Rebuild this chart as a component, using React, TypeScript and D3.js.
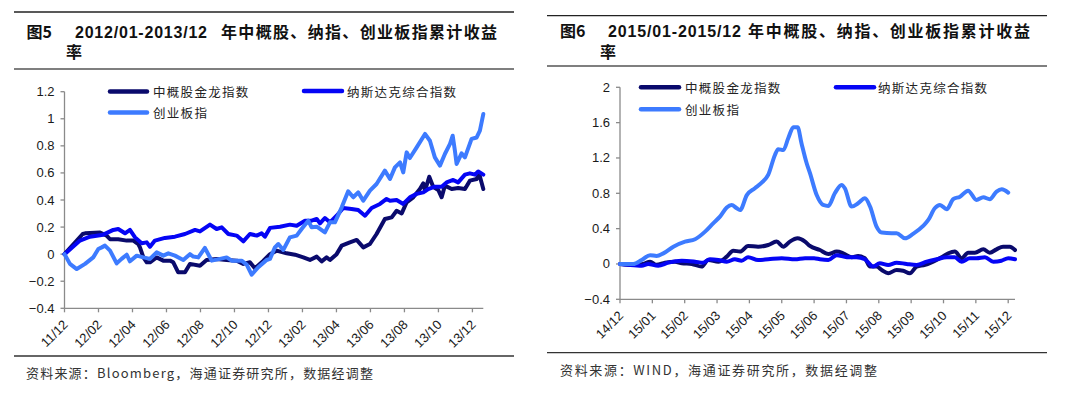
import React from "react";
import * as d3 from "d3";

// ---------- DATA ----------
const seriesNames = ["中概股金龙指数", "纳斯达克综合指数", "创业板指"];

// Chart 5: 2012/01-2013/12 (x = months since 2011/12)
const leftTickLabels = ["11/12", "12/02", "12/04", "12/06", "12/08", "12/10", "12/12", "13/02", "13/04", "13/06", "13/08", "13/10", "13/12"];
const leftTickMonths = [0, 2, 4, 6, 8, 10, 12, 14, 16, 18, 20, 22, 24];
const leftYTicks = [-0.4, -0.2, 0, 0.2, 0.4, 0.6, 0.8, 1, 1.2];

const leftZhonggai: [number, number][] = [
  [0, 0], [1.07, 0.149], [1.21, 0.154], [2.09, 0.16], [2.48, 0.137], [2.68, 0.11], [3.16, 0.11], [3.66, 0.1], [4.05, 0.1],
  [4.34, 0.075], [4.44, 0.05], [4.64, -0.024], [4.84, -0.06], [5.03, -0.06], [5.42, -0.024], [5.81, -0.048], [6.21, -0.048],
  [6.4, -0.06], [6.69, -0.134], [7.09, -0.134], [7.38, -0.072], [7.97, -0.085], [8.36, -0.043], [8.95, -0.035], [9.54, -0.043],
  [10.13, -0.048], [10.52, -0.072], [10.91, -0.06], [11.21, -0.105], [11.69, -0.05], [12.09, 0], [12.48, 0.026], [13.07, 0.006],
  [13.56, -0.004], [14.05, -0.024], [14.44, -0.043], [14.84, -0.018], [15.13, -0.053], [15.42, -0.024], [15.62, -0.043],
  [16.01, 0], [16.31, 0.063], [16.79, 0.087], [17.19, 0.105], [17.58, 0.05], [17.97, 0.075], [18.36, 0.149], [18.85, 0.26],
  [19.25, 0.272], [19.54, 0.321], [19.84, 0.301], [20.13, 0.383], [20.52, 0.42], [20.91, 0.481], [21.11, 0.523], [21.21, 0.469],
  [21.46, 0.572], [21.69, 0.498], [21.99, 0.474], [22.19, 0.42], [22.38, 0.506], [22.78, 0.481], [23.16, 0.489], [23.56, 0.481],
  [23.85, 0.543], [24.25, 0.555], [24.4, 0.592], [24.64, 0.481],
];
const leftNasdaq: [number, number][] = [
  [0, 0], [0.91, 0.1], [1.5, 0.129], [2.28, 0.144], [2.87, 0.179], [3.16, 0.186], [3.56, 0.154], [3.85, 0.179], [4.15, 0.124],
  [4.54, 0.08], [4.84, 0.087], [5.03, 0.055], [5.32, 0.1], [5.91, 0.12], [6.5, 0.129], [7.09, 0.149], [7.68, 0.179], [7.97, 0.168],
  [8.56, 0.218], [8.95, 0.186], [9.25, 0.198], [9.64, 0.149], [10.13, 0.137], [10.52, 0.095], [10.91, 0.149], [11.31, 0.137],
  [11.6, 0.154], [11.79, 0.129], [12.09, 0.194], [12.68, 0.203], [13.26, 0.218], [13.66, 0.21], [14.15, 0.247], [14.54, 0.247],
  [14.84, 0.26], [15.03, 0.227], [15.32, 0.267], [15.62, 0.235], [16.01, 0.284], [16.4, 0.341], [16.89, 0.334], [17.28, 0.326],
  [17.68, 0.284], [18.07, 0.341], [18.56, 0.371], [18.95, 0.408], [19.15, 0.395], [19.54, 0.4], [19.93, 0.371], [20.32, 0.42],
  [20.72, 0.445], [21.11, 0.456], [21.4, 0.481], [21.79, 0.498], [22.19, 0.498], [22.48, 0.53], [22.87, 0.548], [23.16, 0.53],
  [23.56, 0.587], [23.85, 0.597], [24.15, 0.587], [24.34, 0.611], [24.64, 0.587],
];
const leftChinext: [number, number][] = [
  [0, 0], [0.32, -0.072], [0.72, -0.11], [1.21, -0.072], [1.69, -0.024], [1.99, 0.038], [2.19, 0.05], [2.38, 0.063], [2.68, 0.026],
  [3.07, -0.068], [3.36, -0.035], [3.66, -0.004], [3.85, -0.053], [4.25, -0.011], [4.64, -0.024], [5.03, -0.035], [5.42, 0.013],
  [5.81, -0.011], [6.11, 0.006], [6.5, -0.011], [6.99, -0.043], [7.38, 0], [7.58, -0.018], [7.87, -0.024], [8.26, 0.046],
  [8.66, -0.048], [9.15, -0.035], [9.54, -0.024], [9.84, -0.048], [10.42, -0.048], [10.72, -0.077], [11.01, -0.151], [11.4, -0.097],
  [11.89, -0.043], [12.09, -0.035], [12.38, 0.05], [12.58, 0.075], [12.87, 0.031], [13.26, 0.124], [13.66, 0.137], [13.95, 0.186],
  [14.34, 0.247], [14.54, 0.198], [14.84, 0.203], [15.03, 0.186], [15.32, 0.161], [15.62, 0.235], [15.91, 0.235], [16.31, 0.346],
  [16.69, 0.464], [16.99, 0.42], [17.28, 0.456], [17.58, 0.395], [17.97, 0.469], [18.36, 0.518], [18.85, 0.617], [19.15, 0.555],
  [19.44, 0.641], [19.74, 0.678], [19.93, 0.604], [20.13, 0.752], [20.32, 0.71], [20.72, 0.789], [21.21, 0.888], [21.5, 0.838],
  [21.79, 0.715], [22.09, 0.654], [22.38, 0.74], [22.68, 0.814], [22.84, 0.875], [22.97, 0.764], [23.07, 0.666], [23.36, 0.744],
  [23.56, 0.715], [23.95, 0.851], [24.25, 0.862], [24.44, 0.912], [24.64, 1.035],
];

// Chart 6: 2015/01-2015/12 (x = months since 2014/12)
const rightTickLabels = ["14/12", "15/01", "15/02", "15/03", "15/04", "15/05", "15/06", "15/07", "15/08", "15/09", "15/10", "15/11", "15/12"];
const rightTickMonths = [0, 1, 2, 3, 4, 5, 6, 7, 8, 9, 10, 11, 12];
const rightYTicks = [-0.4, 0, 0.4, 0.8, 1.2, 1.6, 2];

const rightZhonggai: [number, number][] = [
  [0, 0], [0.46, -0.01], [0.72, 0], [0.93, 0.026], [1.13, -0.01], [1.39, 0.015], [1.7, 0.026], [1.91, 0.008], [2.22, 0],
  [2.52, -0.03], [2.73, 0.045], [3.04, 0.026], [3.3, 0.083], [3.5, 0.15], [3.71, 0.14], [3.96, 0.204], [4.27, 0.196], [4.58, 0.215],
  [4.84, 0.253], [5.05, 0.196], [5.25, 0.253], [5.49, 0.29], [5.72, 0.253], [5.87, 0.204], [6.18, 0.158], [6.44, 0.113], [6.7, 0.14],
  [6.9, 0.121], [7.16, 0.076], [7.36, 0.09], [7.57, 0.065], [7.73, -0.03], [7.93, -0.03], [8.09, -0.068], [8.29, -0.105],
  [8.55, -0.068], [8.75, -0.076], [8.96, -0.105], [9.17, -0.03], [9.43, -0.011], [9.68, 0.026], [9.94, 0.076], [10.15, 0.121],
  [10.35, 0.14], [10.56, 0.065], [10.76, 0.128], [10.97, 0.128], [11.23, 0.166], [11.43, 0.128], [11.64, 0.166], [11.84, 0.196],
  [12.05, 0.196], [12.21, 0.158],
];
const rightNasdaq: [number, number][] = [
  [0, 0], [0.26, -0.01], [0.67, -0.02], [0.87, 0], [1.18, -0.02], [1.49, 0.015], [1.91, 0.037], [2.32, 0.026], [2.57, 0.015],
  [2.78, 0.053], [3.04, 0.045], [3.3, 0.026], [3.55, 0.053], [3.76, 0.037], [3.96, 0.076], [4.27, 0.045], [4.58, 0.053], [5.0, 0.065],
  [5.41, 0.053], [5.72, 0.065], [6.0, 0.065], [6.18, 0.053], [6.44, 0.045], [6.7, 0.1], [7.01, 0.076], [7.31, 0.076], [7.57, 0.053],
  [7.83, -0.03], [8.03, 0.008], [8.29, -0.011], [8.55, 0.015], [8.86, 0], [9.17, -0.011], [9.48, 0.026], [9.79, 0.053], [10.1, 0.076],
  [10.35, 0.076], [10.56, 0.026], [10.81, 0.065], [11.02, 0.065], [11.28, 0.076], [11.54, 0.026], [11.79, 0.037], [12.0, 0.065],
  [12.21, 0.053],
];
const rightChinext: [number, number][] = [
  [0, 0], [0.41, 0], [0.67, 0.045], [0.93, 0.1], [1.13, 0.09], [1.34, 0.12], [1.65, 0.196], [2.01, 0.253], [2.32, 0.28], [2.63, 0.366],
  [2.88, 0.46], [3.09, 0.536], [3.3, 0.64], [3.45, 0.668], [3.61, 0.63], [3.71, 0.61], [3.92, 0.78], [4.17, 0.857], [4.38, 0.92],
  [4.58, 1.008], [4.79, 1.234], [4.89, 1.3], [5.05, 1.29], [5.2, 1.423], [5.36, 1.548], [5.49, 1.548], [5.61, 1.367], [5.77, 1.14],
  [5.87, 1.03], [6.08, 0.78], [6.28, 0.668], [6.44, 0.657], [6.64, 0.8], [6.85, 0.895], [6.95, 0.857], [7.16, 0.65], [7.36, 0.687],
  [7.57, 0.744], [7.73, 0.65], [7.93, 0.422], [8.09, 0.355], [8.4, 0.348], [8.55, 0.348], [8.81, 0.29], [9.06, 0.34], [9.37, 0.43],
  [9.53, 0.498], [9.73, 0.63], [9.89, 0.668], [10.1, 0.62], [10.3, 0.733], [10.51, 0.762], [10.76, 0.83], [11.02, 0.725],
  [11.23, 0.755], [11.43, 0.733], [11.64, 0.82], [11.8, 0.846], [12.0, 0.808],
];

// ---------- STYLE ----------
const seriesColors = ["#0a0a6c", "#0505f5", "#3d7bff"];
const CJK = "'Noto Sans CJK SC', sans-serif";
const LAT = "'Liberation Sans', Arial, sans-serif";
const AXIS = "#8a8a8a";

type Panel = {
  left: number;
  right: number;
  top: number;
  bottom: number;
  xMax: number;
  yMin: number;
  yMax: number;
  yTicks: number[];
  tickMonths: number[];
  tickLabels: string[];
  series: [number, number][][];
  curve: d3.CurveFactory;
  legend: { x1: number; x2: number; y: number; tx: number }[];
};

function ChartPanel({ p }: { p: Panel }) {
  const x = d3.scaleLinear().domain([0, p.xMax]).range([p.left, p.right]);
  const y = d3.scaleLinear().domain([p.yMin, p.yMax]).range([p.bottom, p.top]);
  const line = d3
    .line<[number, number]>()
    .x((d) => x(d[0]))
    .y((d) => y(d[1]))
    .curve(p.curve);
  return (
    <g>
      {/* y axis */}
      <line x1={p.left} x2={p.left} y1={y(p.yMax)} y2={y(p.yMin)} stroke={AXIS} strokeWidth={1.3} />
      {p.yTicks.map((t) => (
        <g key={"y" + t}>
          <line x1={p.left - 4} x2={p.left} y1={y(t)} y2={y(t)} stroke={AXIS} strokeWidth={1.3} />
          <text x={p.left - 10} y={y(t)} textAnchor="end" dominantBaseline="central" fontFamily={LAT} fontSize={13} fill="#1a1a1a">
            {d3.format("~g")(t)}
          </text>
        </g>
      ))}
      {/* x axis */}
      <line x1={p.left} x2={p.right} y1={p.bottom} y2={p.bottom} stroke={AXIS} strokeWidth={1.3} />
      {p.tickMonths.map((m, i) => (
        <g key={"x" + m}>
          <line x1={x(m)} x2={x(m)} y1={p.bottom} y2={p.bottom + 4} stroke={AXIS} strokeWidth={1.3} />
          <text
            transform={`translate(${x(m) + 1},${p.bottom + 14}) rotate(-45)`}
            textAnchor="end"
            dominantBaseline="central"
            fontFamily={LAT}
            fontSize={13}
            fill="#1a1a1a"
          >
            {p.tickLabels[i]}
          </text>
        </g>
      ))}
      {/* series */}
      {p.series.map((s, i) => (
        <path key={"s" + i} d={line(s) || ""} fill="none" stroke={seriesColors[i]} strokeWidth={4} strokeLinejoin="round" strokeLinecap="round" />
      ))}
      {/* legend */}
      {p.legend.map((l, i) => (
        <g key={"l" + i}>
          <line x1={l.x1} x2={l.x2} y1={l.y} y2={l.y} stroke={seriesColors[i]} strokeWidth={4.5} strokeLinecap="round" />
          <text x={l.tx} y={l.y} dominantBaseline="central" fontFamily={CJK} fontSize={12.5} letterSpacing={1.3} fill="#222">
            {seriesNames[i]}
          </text>
        </g>
      ))}
    </g>
  );
}

export default function App() {
  const leftPanel: Panel = {
    left: 64.5,
    right: 483.3,
    top: 91.7,
    bottom: 308.3,
    xMax: 24.64,
    yMin: -0.4,
    yMax: 1.2,
    yTicks: leftYTicks,
    tickMonths: leftTickMonths,
    tickLabels: leftTickLabels,
    series: [leftZhonggai, leftNasdaq, leftChinext],
    curve: d3.curveLinear,
    legend: [
      { x1: 110, x2: 147, y: 91.5, tx: 153 },
      { x1: 304, x2: 342, y: 91, tx: 347 },
      { x1: 110, x2: 147, y: 112.5, tx: 153 },
    ],
  };
  const rightPanel: Panel = {
    left: 620,
    right: 1015,
    top: 87.3,
    bottom: 299.3,
    xMax: 12.21,
    yMin: -0.4,
    yMax: 2,
    yTicks: rightYTicks,
    tickMonths: rightTickMonths,
    tickLabels: rightTickLabels,
    series: [rightZhonggai, rightNasdaq, rightChinext],
    curve: d3.curveMonotoneX,
    legend: [
      { x1: 641, x2: 679, y: 87.3, tx: 685 },
      { x1: 836, x2: 874, y: 87.3, tx: 878 },
      { x1: 641, x2: 679, y: 109.3, tx: 685 },
    ],
  };

  return (
    <svg width={1080} height={393} style={{ position: "absolute", left: 0, top: 0, background: "#fff" }}>
      {/* Left title block */}
      <line x1={14} x2={514} y1={12} y2={12} stroke="#222" strokeWidth={1.3} />
      <text y={37.5} fill="#111" fontWeight="bold" fontSize={16}>
        <tspan x={26.5} fontFamily={CJK}>图5</tspan>
        <tspan x={75} fontFamily={LAT} textLength={132} lengthAdjust="spacing">2012/01-2013/12</tspan>
        <tspan x={221} fontFamily={CJK} textLength={276} lengthAdjust="spacing">年中概股、纳指、创业板指累计收益</tspan>
      </text>
      <text x={66} y={57.5} fill="#111" fontWeight="bold" fontSize={16} fontFamily={CJK}>率</text>
      <line x1={14} x2={514} y1={69} y2={69} stroke="#555" strokeWidth={1.6} />

      {/* Right title block */}
      <line x1={547} x2={1047} y1={15.7} y2={15.7} stroke="#222" strokeWidth={1.3} />
      <text y={37} fill="#111" fontWeight="bold" fontSize={16}>
        <tspan x={560} fontFamily={CJK}>图6</tspan>
        <tspan x={608} fontFamily={LAT} textLength={133} lengthAdjust="spacing">2015/01-2015/12</tspan>
        <tspan x={748} fontFamily={CJK} textLength={282} lengthAdjust="spacing">年中概股、纳指、创业板指累计收益</tspan>
      </text>
      <text x={600} y={57.5} fill="#111" fontWeight="bold" fontSize={16} fontFamily={CJK}>率</text>
      <line x1={547} x2={1047} y1={66} y2={66} stroke="#555" strokeWidth={1.6} />

      <ChartPanel p={leftPanel} />
      <ChartPanel p={rightPanel} />

      {/* Footers */}
      <line x1={14} x2={514} y1={356} y2={356} stroke="#333" strokeWidth={1.3} />
      <text x={26} y={377.5} fontSize={13} fill="#333" fontFamily={CJK} textLength={347} lengthAdjust="spacing">
        资料来源：Bloomberg，海通证券研究所，数据经调整
      </text>
      <line x1={547} x2={1047} y1={352.7} y2={352.7} stroke="#333" strokeWidth={1.3} />
      <text x={560} y={374.5} fontSize={13} fill="#333" fontFamily={CJK} textLength={317} lengthAdjust="spacing">
        资料来源：WIND，海通证券研究所，数据经调整
      </text>
    </svg>
  );
}
